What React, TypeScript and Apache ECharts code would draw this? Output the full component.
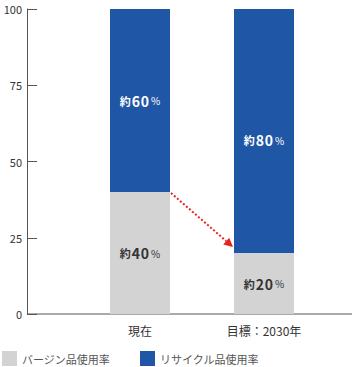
import React, { useEffect, useRef } from "react";
import * as echarts from "echarts";

const categories = ["現在", "目標：2030年"];
const virginValues = [40, 20];
const recycleValues = [60, 80];
const virginName = "バージン品使用率";
const recycleName = "リサイクル品使用率";

const FONT = "'Noto Sans CJK JP', 'Noto Sans', sans-serif";

export default function App() {
  const ref = useRef<HTMLDivElement>(null);
  useEffect(() => {
    const chart = echarts.init(ref.current!, undefined, { renderer: "svg" });
    const lbl = (color: string) => ({
      show: true,
      position: "inside",
      formatter: (p: any) => `{a|約}{b|${String(p.value).split("").join("\u200A")}}{c|%}`,
      rich: {
        a: { fontSize: 11, color, fontWeight: "bold", fontFamily: FONT },
        b: { fontSize: 14, color, fontWeight: "bold", fontFamily: FONT, padding: [0, 2, 0, 1] },
        c: { fontSize: 10, color, fontFamily: FONT },
      },
    });
    const option: any = {
      animation: false,
      textStyle: { fontFamily: FONT },
      grid: { left: 78, right: 30, top: 9, bottom: 53 },
      legend: {
        left: 2,
        bottom: 1,
        padding: 0,
        itemWidth: 15,
        itemHeight: 15,
        itemGap: 30,
        itemTextGap: 5,
        icon: "rect",
        textStyle: { fontSize: 11, color: "#555", fontFamily: FONT },
        data: [virginName, recycleName],
      },
      xAxis: {
        type: "category",
        data: categories,
        axisLine: { show: false },
        axisTick: { show: false },
        axisLabel: { color: "#333", fontSize: 12, margin: 10, fontFamily: FONT },
      },
      yAxis: {
        type: "value",
        min: 0,
        max: 100,
        interval: 25,
        offset: 51,
        splitLine: { show: false },
        axisLine: { show: true, lineStyle: { color: "#555", width: 1 } },
        axisTick: { show: true, inside: true, length: 10, lineStyle: { color: "#555" } },
        axisLabel: { color: "#333", fontSize: 11, margin: 5, fontFamily: FONT },
      },
      series: [
        {
          name: virginName,
          type: "bar",
          stack: "s",
          barWidth: 60,
          data: virginValues,
          itemStyle: { color: "#d3d3d3" },
          label: lbl("#333"),
        },
        {
          name: recycleName,
          type: "bar",
          stack: "s",
          barWidth: 60,
          data: recycleValues.map((v, i) =>
            i === 1 ? { value: v, label: { offset: [0, 9] } } : v
          ),
          itemStyle: { color: "#1f56a5" },
          label: lbl("#fff"),
        },
      ],
    };
    chart.setOption(option);

    const p0 = chart.convertToPixel({ gridIndex: 0 }, [0, 0]) as number[];
    const pStart = chart.convertToPixel({ gridIndex: 0 }, [0, virginValues[0]]) as number[];
    const pEnd = chart.convertToPixel({ gridIndex: 0 }, [1, virginValues[1]]) as number[];
    const sx = pStart[0] + 31, sy = pStart[1] + 1;
    const ex = pEnd[0] - 31, ey = pEnd[1] - 6;
    const ang = Math.atan2(ey - sy, ex - sx);
    const ah = 9, aw = 4.5;
    const bx = ex - ah * Math.cos(ang), by = ey - ah * Math.sin(ang);
    const nx = -Math.sin(ang), ny = Math.cos(ang);

    chart.setOption({
      graphic: [
        {
          type: "line",
          shape: { x1: 27, y1: p0[1], x2: 352, y2: p0[1] },
          style: { stroke: "#555", lineWidth: 1 },
        },
        {
          type: "line",
          shape: { x1: sx, y1: sy, x2: bx, y2: by },
          style: { stroke: "#e8231d", lineWidth: 2, lineDash: [2, 2] },
        },
        {
          type: "polygon",
          shape: {
            points: [
              [ex, ey],
              [bx + nx * aw, by + ny * aw],
              [bx - nx * aw, by - ny * aw],
            ],
          },
          style: { fill: "#e8231d" },
        },
      ],
    });
    return () => chart.dispose();
  }, []);
  return <div ref={ref} style={{ width: 356, height: 367, position: "absolute", left: 0, top: 0 }} />;
}
